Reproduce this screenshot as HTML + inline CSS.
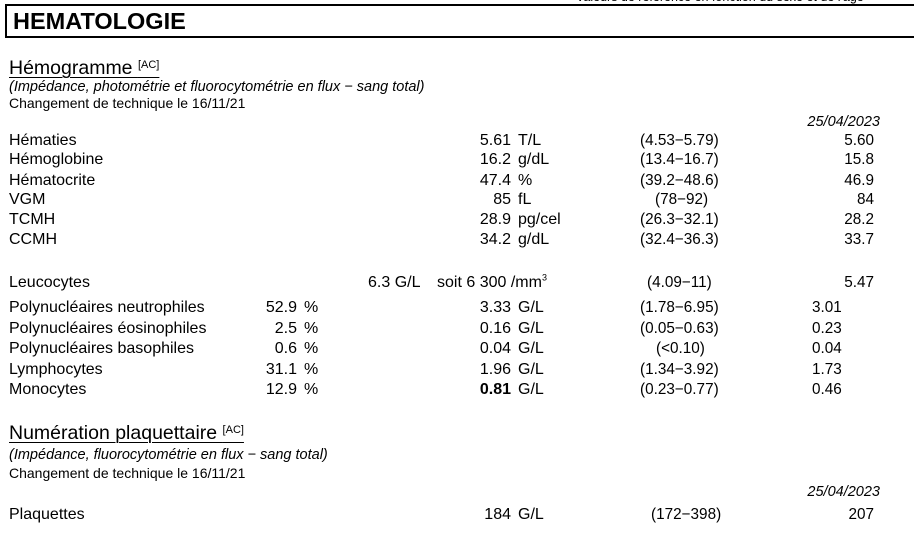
<!DOCTYPE html>
<html><head><meta charset="utf-8"><style>
body{margin:0;width:914px;height:537px;background:#fff;position:relative;overflow:hidden;font-family:"Liberation Sans",Arial,sans-serif;color:#000;font-size:16px}
.a{position:absolute;white-space:nowrap;line-height:20px}
.r{text-align:right}
.i{font-style:italic;font-size:14.5px}
.s{font-size:15.3px}
.c{font-size:14px}
.h{font-size:19.5px;text-decoration:underline;text-decoration-thickness:1px;text-underline-offset:3px}
.h sup{font-size:11px;vertical-align:6px;line-height:0}
sup{line-height:0}
.box{position:absolute;left:5px;top:4px;width:915px;height:30px;border:2px solid #000;border-right:none}
.box span{position:absolute;left:6px;top:2px;font-weight:bold;font-size:23.5px;line-height:26px}
</style></head><body>
<div class="a" style="left:576px;top:-13px;font-size:12.5px">Valeurs de référence en fonction du sexe et de l'age</div>
<div class="box"><span>HEMATOLOGIE</span></div>

<div class="a h" style="left:9px;top:58px">Hémogramme <sup>[AC]</sup></div>
<div class="a i" style="left:9px;top:77px">(Impédance, photométrie et fluorocytométrie en flux − sang total)</div>
<div class="a c" style="left:9px;top:93px">Changement de technique le 16/11/21</div>
<div class="a i r" style="right:34px;top:112px">25/04/2023</div>

<div class="a" style="left:9px;top:131px">Hématies</div>
<div class="a" style="left:9px;top:150px">Hémoglobine</div>
<div class="a" style="left:9px;top:171px">Hématocrite</div>
<div class="a" style="left:9px;top:190px">VGM</div>
<div class="a" style="left:9px;top:210px">TCMH</div>
<div class="a" style="left:9px;top:230px">CCMH</div>

<div class="a r" style="right:403px;top:131px">5.61</div><div class="a" style="left:518px;top:131px">T/L</div>
<div class="a r" style="right:403px;top:150px">16.2</div><div class="a" style="left:518px;top:150px">g/dL</div>
<div class="a r" style="right:403px;top:171px">47.4</div><div class="a" style="left:518px;top:171px">%</div>
<div class="a r" style="right:403px;top:190px">85</div><div class="a" style="left:518px;top:190px">fL</div>
<div class="a r" style="right:403px;top:210px">28.9</div><div class="a" style="left:518px;top:210px">pg/cel</div>
<div class="a r" style="right:403px;top:230px">34.2</div><div class="a" style="left:518px;top:230px">g/dL</div>

<div class="a s" style="left:640px;top:131px">(4.53−5.79)</div>
<div class="a s" style="left:640px;top:150px">(13.4−16.7)</div>
<div class="a s" style="left:640px;top:171px">(39.2−48.6)</div>
<div class="a s" style="left:655px;top:190px">(78−92)</div>
<div class="a s" style="left:640px;top:210px">(26.3−32.1)</div>
<div class="a s" style="left:640px;top:230px">(32.4−36.3)</div>

<div class="a s r" style="right:40px;top:131px">5.60</div>
<div class="a s r" style="right:40px;top:150px">15.8</div>
<div class="a s r" style="right:40px;top:171px">46.9</div>
<div class="a s r" style="right:40px;top:190px">84</div>
<div class="a s r" style="right:40px;top:210px">28.2</div>
<div class="a s r" style="right:40px;top:230px">33.7</div>

<div class="a" style="left:9px;top:273px">Leucocytes</div>
<div class="a" style="left:368px;top:273px">6.3 G/L</div>
<div class="a" style="left:437px;top:273px">soit 6 300 /mm<sup style="font-size:9px">3</sup></div>
<div class="a s" style="left:647px;top:273px">(4.09−11)</div>
<div class="a s r" style="right:40px;top:273px">5.47</div>

<div class="a" style="left:9px;top:298px">Polynucléaires neutrophiles</div>
<div class="a" style="left:9px;top:319px">Polynucléaires éosinophiles</div>
<div class="a" style="left:9px;top:339px">Polynucléaires basophiles</div>
<div class="a" style="left:9px;top:360px">Lymphocytes</div>
<div class="a" style="left:9px;top:380px">Monocytes</div>

<div class="a r" style="right:617px;top:298px">52.9</div><div class="a" style="left:304px;top:298px">%</div>
<div class="a r" style="right:617px;top:319px">2.5</div><div class="a" style="left:304px;top:319px">%</div>
<div class="a r" style="right:617px;top:339px">0.6</div><div class="a" style="left:304px;top:339px">%</div>
<div class="a r" style="right:617px;top:360px">31.1</div><div class="a" style="left:304px;top:360px">%</div>
<div class="a r" style="right:617px;top:380px">12.9</div><div class="a" style="left:304px;top:380px">%</div>

<div class="a r" style="right:403px;top:298px">3.33</div><div class="a" style="left:518px;top:298px">G/L</div>
<div class="a r" style="right:403px;top:319px">0.16</div><div class="a" style="left:518px;top:319px">G/L</div>
<div class="a r" style="right:403px;top:339px">0.04</div><div class="a" style="left:518px;top:339px">G/L</div>
<div class="a r" style="right:403px;top:360px">1.96</div><div class="a" style="left:518px;top:360px">G/L</div>
<div class="a r" style="right:403px;top:380px;font-weight:bold">0.81</div><div class="a" style="left:518px;top:380px">G/L</div>

<div class="a s" style="left:640px;top:298px">(1.78−6.95)</div>
<div class="a s" style="left:640px;top:319px">(0.05−0.63)</div>
<div class="a s" style="left:656px;top:339px">(&lt;0.10)</div>
<div class="a s" style="left:640px;top:360px">(1.34−3.92)</div>
<div class="a s" style="left:640px;top:380px">(0.23−0.77)</div>

<div class="a s" style="left:812px;top:298px">3.01</div>
<div class="a s" style="left:812px;top:319px">0.23</div>
<div class="a s" style="left:812px;top:339px">0.04</div>
<div class="a s" style="left:812px;top:360px">1.73</div>
<div class="a s" style="left:812px;top:380px">0.46</div>

<div class="a h" style="left:9px;top:423px">Numération plaquettaire <sup>[AC]</sup></div>
<div class="a i" style="left:9px;top:445px">(Impédance, fluorocytométrie en flux − sang total)</div>
<div class="a c" style="left:9px;top:463px">Changement de technique le 16/11/21</div>
<div class="a i r" style="right:34px;top:482px">25/04/2023</div>
<div class="a" style="left:9px;top:505px">Plaquettes</div>
<div class="a r" style="right:403px;top:505px">184</div><div class="a" style="left:518px;top:505px">G/L</div>
<div class="a s" style="left:651px;top:505px">(172−398)</div>
<div class="a s r" style="right:40px;top:505px">207</div>
</body></html>
